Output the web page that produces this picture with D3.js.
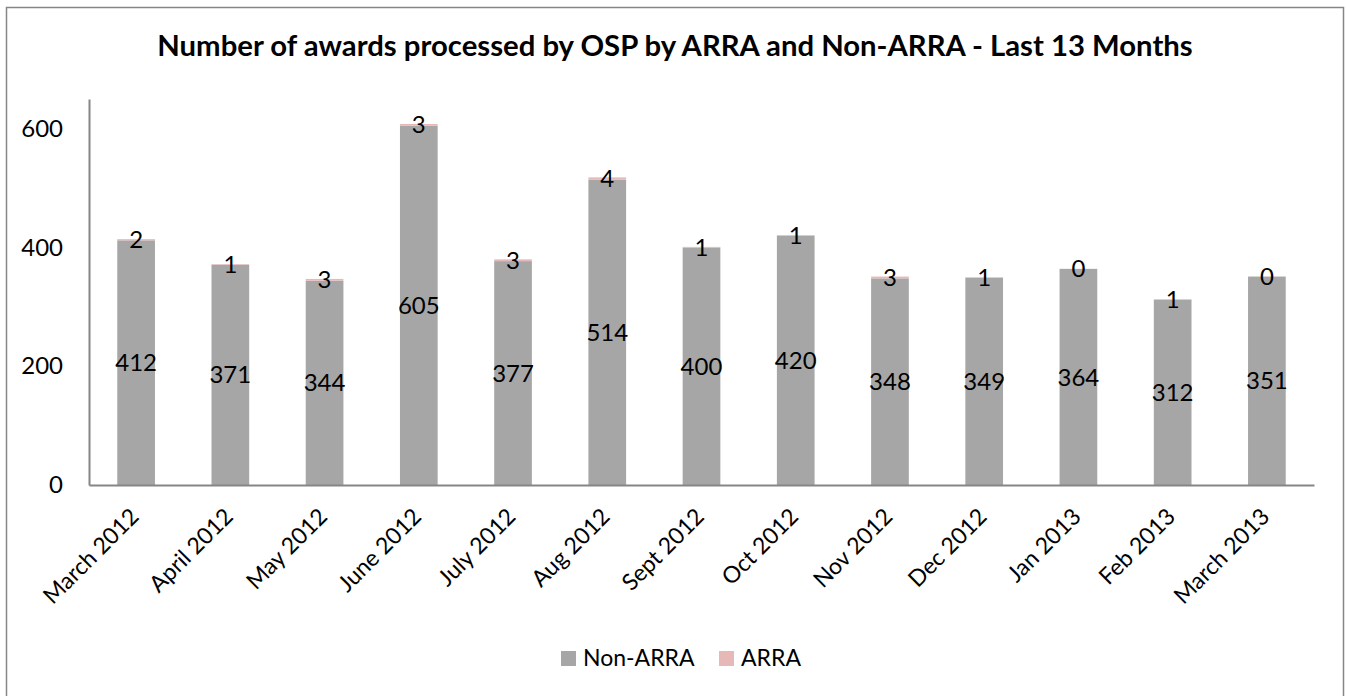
<!DOCTYPE html>
<html>
<head>
<meta charset="utf-8">
<script src="https://cdn.jsdelivr.net/npm/d3@7"></script>
<style>
  body { margin: 0; background: #fff; }
  text { font-family: Lato, "Open Sans", sans-serif; fill: #000; }
</style>
</head>
<body>
<div id="chart-area"></div>
<script>

// data
var months = ["March 2012", "April 2012", "May 2012", "June 2012", "July 2012", "Aug 2012",
    "Sept 2012", "Oct 2012", "Nov 2012", "Dec 2012", "Jan 2013", "Feb 2013", "March 2013"];
var nonArra = [412, 371, 344, 605, 377, 514, 400, 420, 348, 349, 364, 312, 351];
var arra = [2, 1, 3, 3, 3, 4, 1, 1, 3, 1, 0, 1, 0];
var yTicks = [0, 200, 400, 600];
var seriesNames = ["Non-ARRA", "ARRA"];
var colors = ["#a6a6a6", "#e6b9b8"];

var title = "Number of awards processed by OSP by ARRA and Non-ARRA - Last 13 Months";

var W = 1346, H = 696;
var plot = {left: 89, right: 1314, top: 99, bottom: 485};

var svg = d3.select("#chart-area").append("svg")
    .attr("width", W)
    .attr("height", H);

// outer frame
svg.append("rect")
    .attr("x", 6.5).attr("y", 7.5)
    .attr("width", 1337).attr("height", 720)
    .attr("fill", "none")
    .attr("stroke", "#868686")
    .attr("stroke-width", 1.5);

// title, sized to the width it takes in the picture
var t = svg.append("text")
    .attr("x", 675).attr("y", 56)
    .attr("text-anchor", "middle")
    .style("font-weight", "bold")
    .style("font-size", "26px")
    .text(title);
var tw = t.node().getComputedTextLength();
t.style("font-size", (26 * 1036 / tw) + "px");

var x = d3.scaleBand()
    .domain(months)
    .range([plot.left, plot.right])
    .paddingInner(0.6)
    .paddingOuter(0.3);

var y = d3.scaleLinear()
    .domain([0, 650])
    .range([plot.bottom, plot.top]);

var data = months.map(function (m, i) {
    return {month: m, nonArra: nonArra[i], arra: arra[i]};
});

// bars
svg.selectAll(".bar-non")
    .data(data)
    .enter().append("rect")
    .attr("class", "bar-non")
    .attr("x", function (d) { return x(d.month); })
    .attr("width", x.bandwidth())
    .attr("y", function (d) { return y(d.nonArra); })
    .attr("height", function (d) { return y(0) - y(d.nonArra); })
    .attr("fill", colors[0]);

svg.selectAll(".bar-arra")
    .data(data)
    .enter().append("rect")
    .attr("class", "bar-arra")
    .attr("x", function (d) { return x(d.month); })
    .attr("width", x.bandwidth())
    .attr("y", function (d) { return y(d.nonArra + d.arra); })
    .attr("height", function (d) { return y(d.nonArra) - y(d.nonArra + d.arra); })
    .attr("fill", colors[1]);

// axes
var yAxis = svg.append("g")
    .attr("transform", "translate(" + plot.left + ",0)")
    .call(d3.axisLeft(y).tickValues(yTicks).tickSize(0).tickPadding(26));
yAxis.select(".domain").attr("stroke", "#868686").attr("stroke-width", 2);
yAxis.selectAll("text").style("font-size", "24px").style("font-family", "Lato");

var xAxis = svg.append("g")
    .attr("transform", "translate(0," + plot.bottom + ")")
    .call(d3.axisBottom(x).tickSize(0).tickFormat(""));
xAxis.select(".domain").attr("stroke", "#868686").attr("stroke-width", 2);

svg.selectAll(".xlab")
    .data(months)
    .enter().append("text")
    .attr("class", "xlab")
    .attr("text-anchor", "end")
    .attr("transform", function (d) {
        return "translate(" + (x(d) + x.bandwidth() / 2 + 4) + ",518) rotate(-45)";
    })
    .style("font-size", "23px")
    .text(function (d) { return d; });

// data labels
svg.selectAll(".lab-non")
    .data(data)
    .enter().append("text")
    .attr("class", "lab-non")
    .attr("text-anchor", "middle")
    .attr("x", function (d) { return x(d.month) + x.bandwidth() / 2; })
    .attr("y", function (d) { return (y(0) + y(d.nonArra)) / 2; })
    .attr("dy", "0.36em")
    .style("font-size", "24px")
    .text(function (d) { return d.nonArra; });

svg.selectAll(".lab-arra")
    .data(data)
    .enter().append("text")
    .attr("class", "lab-arra")
    .attr("text-anchor", "middle")
    .attr("x", function (d) { return x(d.month) + x.bandwidth() / 2; })
    .attr("y", function (d) { return (y(d.nonArra) + y(d.nonArra + d.arra)) / 2; })
    .attr("dy", "0.36em")
    .style("font-size", "24px")
    .text(function (d) { return d.arra; });

// legend
var legX = [561, 719];
var legend = svg.selectAll(".legend")
    .data(seriesNames)
    .enter().append("g")
    .attr("class", "legend")
    .attr("transform", function (d, i) { return "translate(" + legX[i] + ",651)"; });

legend.append("rect")
    .attr("width", 15).attr("height", 15)
    .attr("fill", function (d, i) { return colors[i]; });

legend.append("text")
    .attr("x", 22).attr("y", 15)
    .style("font-size", "23px")
    .text(function (d) { return d; });

</script>
</body>
</html>
